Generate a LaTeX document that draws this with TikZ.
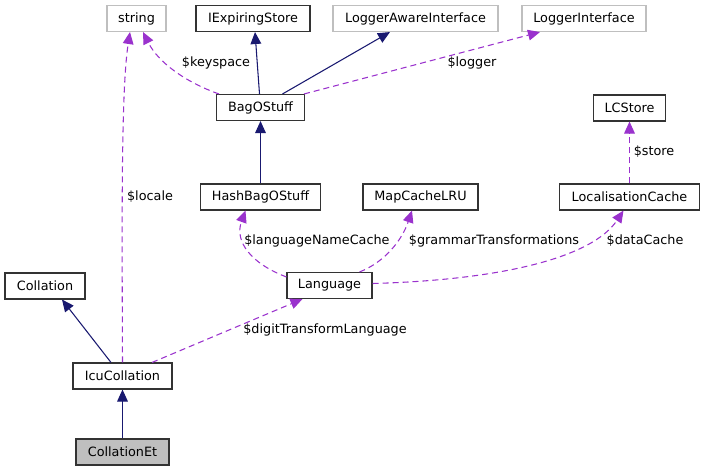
\documentclass[tikz,border=0pt]{standalone}
\usepackage{fontspec}
\setmainfont{DejaVu Sans}
\usetikzlibrary{arrows.meta,calc}
\definecolor{navy}{HTML}{191970}
\definecolor{orch}{HTML}{9A32CD}
\definecolor{lgray}{HTML}{BFBFBF}
\definecolor{fillg}{HTML}{BFBFBF}
\tikzset{
  cls/.style={draw=black!80, line width=0.8pt, fill=white, inner sep=0pt, minimum height=19.5pt, font=\fontsize{9.6}{11}\selectfont},
  ext/.style={cls, draw=lgray},
  cur/.style={cls, fill=fillg},
  inh/.style={draw=navy, line width=0.8pt, -{Triangle[length=9pt,width=8pt]}, color=navy},
  use/.style={draw=orch, line width=0.8pt, dash pattern=on 4.5pt off 3pt, -{Triangle[length=9pt,width=8pt]}, color=orch},
  lab/.style={font=\fontsize{9.6}{11}\selectfont, inner sep=0pt, text=black}
}
\begin{document}
\begin{tikzpicture}[x=0.75pt,y=-0.75pt]
\useasboundingbox (0,0) rectangle (705,471);
\node[ext, minimum width=44.25pt] (string) at (136.5,18.5) {string};
\node[cls, minimum width=85.5pt] (iexp) at (253,18.5) {IExpiringStore};
\node[ext, minimum width=123.75pt] (law) at (415.5,18.5) {LoggerAwareInterface};
\node[ext, minimum width=93pt] (li) at (584,18.5) {LoggerInterface};
\node[cls, minimum width=66pt] (bag) at (260.5,107.5) {BagOStuff};
\node[cls, minimum width=54pt] (lcs) at (629.5,108) {LCStore};
\node[cls, minimum width=90pt] (hash) at (260.5,197) {HashBagOStuff};
\node[cls, minimum width=86.25pt] (map) at (420.5,197) {MapCacheLRU};
\node[cls, minimum width=105pt] (loc) at (629.5,197) {LocalisationCache};
\node[cls, minimum width=60pt] (coll) at (45,286) {Collation};
\node[cls, minimum width=63.75pt] (lang) at (329.5,285.5) {Language};
\node[cls, minimum width=74.25pt] (icu) at (122.5,376) {IcuCollation};
\node[cur, minimum width=69.75pt] (cet) at (122.5,452) {CollationEt};

% inheritance
\draw[inh] ($(bag.north)+(-1,0)$) -- ($(iexp.south)+(2,0)$);
\draw[inh] ($(bag.north)+(22,0)$) -- ($(law.south)+(-25.5,0)$);
\draw[inh] (hash.north) -- (bag.south);
\draw[inh] ($(icu.north)+(-11.5,0)$) -- ($(coll.south)+(17,0)$);
\draw[inh] (cet.north) -- (icu.south);

% usage
\draw[use] ($(bag.north west)+(3,0)$) .. controls (185,82) and (158,62) .. ($(string.south)+(6.5,0)$);
\node[lab] (lkey) at (216,63) {\$keyspace};
\draw[use] ($(bag.north east)+(-1,0)$) -- ($(li.south)+(-44,0)$);
\node[lab] (llog) at (472,63) {\$logger};
\draw[use] (loc.north) -- (lcs.south);
\node[lab] (lsto) at (654,152) {\$store};
\draw[use] (icu.north) .. controls (122,220) and (121,90) .. ($(string.south)+(-6.5,0)$);
\node[lab] (lloc) at (150,197) {\$locale};
\draw[use] ($(lang.north west)+(0,5)$) .. controls (252,264) and (234,242) .. ($(hash.south)+(-15,0)$);
\node[lab, anchor=west] (llnc) at (244,241) {\$languageNameCache};
\draw[use] ($(lang.north)+(30,0)$) .. controls (385,262) and (402,240) .. ($(map.south)+(-8.5,0)$);
\node[lab] (lgt) at (494,241) {\$grammarTransformations};
\draw[use] ($(lang.east)+(0,-2)$) .. controls (500,280) and (592,258) .. ($(loc.south)+(-6,0)$);
\node[lab] (ldc) at (645,241) {\$dataCache};
\draw[use] ($(icu.north)+(29.5,0)$) -- ($(lang.south west)+(16,0)$);
\node[lab] (ldtl) at (325,330) {\$digitTransformLanguage};
\end{tikzpicture}
\end{document}
